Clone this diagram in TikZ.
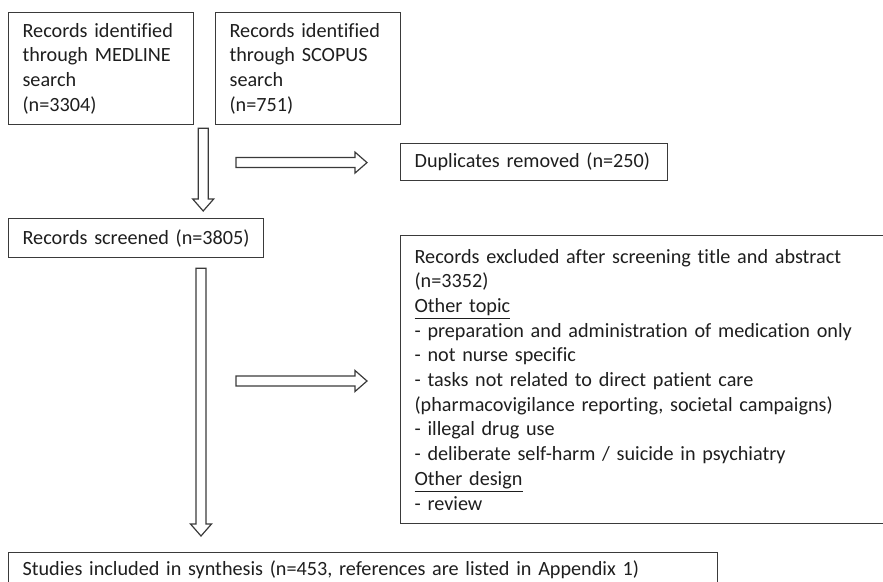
\documentclass[tikz,border=0pt]{standalone}
\usepackage{fontspec}
\setmainfont{Carlito}[Ligatures=NoCommon]
\usetikzlibrary{calc}
\definecolor{cline}{HTML}{3a3a3a}
\definecolor{ctext}{HTML}{1e1e1e}

\tikzset{
  boxnode/.style={draw=cline, line width=0.6pt, anchor=north west, align=left,
    inner xsep=7pt, inner ysep=0pt, text=ctext,
    font=\fontsize{10.1pt}{12.35pt}\selectfont},
  % hollow block arrow between two named coordinates
  blockarrow/.style={draw=cline, line width=0.6pt, to path={
    ($(\tikztotarget)!6pt!(\tikztostart)$) coordinate (ah)
    ($(\tikztostart)!2.5pt!90:(\tikztotarget)$) -- ($(ah)!2.5pt!90:(\tikztotarget)$)
    -- ($(ah)!5.25pt!90:(\tikztotarget)$) -- (\tikztotarget)
    -- ($(ah)!5.25pt!-90:(\tikztotarget)$) -- ($(ah)!2.5pt!-90:(\tikztotarget)$)
    -- ($(\tikztostart)!2.5pt!-90:(\tikztotarget)$) -- cycle}}
}

\begin{document}
\begin{tikzpicture}[x=0.5pt, y=-0.5pt, line join=miter]
  \useasboundingbox (0,0) rectangle (883,582);
  \clip (0,0) rectangle (883,582);
  % sources
  \node[boxnode, text width=78.5pt, minimum height=56pt] (medline) at (8,12)
    {Records identified\\through MEDLINE\\search\\(n=3304)};
  \node[boxnode, text width=78.5pt, minimum height=56pt] (scopus) at (215,12)
    {Records identified\\through SCOPUS\\search\\(n=751)};
  % duplicates
  \node[boxnode, text width=119.5pt, minimum height=18.5pt] (dupl) at (400,143)
    {Duplicates removed (n=250)};
  % screening
  \node[boxnode, text width=113.5pt, minimum height=19.5pt] (screened) at (8,218)
    {Records screened (n=3805)};
  \node[boxnode, text width=233.5pt, minimum height=144pt] (excluded) at (400,235)
    {Records excluded after screening title and abstract\\
     (n=3352)\\
     \underline{Other topic}\\
     - preparation and administration of medication only\\
     - not nurse specific\\
     - tasks not related to direct patient care\\
     (pharmacovigilance reporting, societal campaigns)\\
     - illegal drug use\\
     - deliberate self-harm / suicide in psychiatry\\
     \underline{Other design}\\
     - review};
  % result
  \node[boxnode, text width=340.5pt, minimum height=17pt] (included) at (8,552)
    {Studies included in synthesis (n=453, references are listed in Appendix 1)};
  % arrows
  \coordinate (a1s) at ($(medline.south east)+(9,3)$);
  \coordinate (a1e) at ($(a1s |- screened.north)+(0,-7)$);
  \draw[blockarrow] (a1s) to (a1e);
  \coordinate (a2s) at ($(dupl.west)+(-164,0.5)$);
  \coordinate (a2e) at ($(dupl.west)+(-33,0.5)$);
  \draw[blockarrow] (a2s) to (a2e);
  \coordinate (a3s) at ($(screened.south west)+(193,10)$);
  \coordinate (a3e) at ($(a3s |- included.north)+(0,-16)$);
  \draw[blockarrow] (a3s) to (a3e);
  \coordinate (a4s) at ($(excluded.north west)+(-164,146)$);
  \coordinate (a4e) at ($(excluded.north west)+(-33,146)$);
  \draw[blockarrow] (a4s) to (a4e);
\end{tikzpicture}
\end{document}
